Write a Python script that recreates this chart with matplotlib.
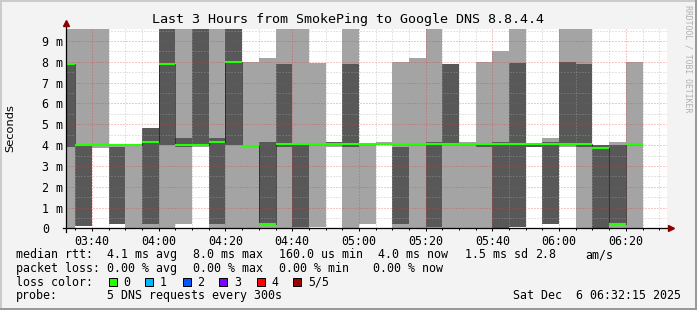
import matplotlib
matplotlib.use("Agg")
import matplotlib.pyplot as plt
import matplotlib.dates as mdates
from matplotlib.patches import Rectangle
from matplotlib.lines import Line2D
from matplotlib.ticker import MultipleLocator, FuncFormatter
import numpy as np
import pandas as pd

# ---------------- data (ms) ----------------
TOP = 12.0  # values above the visible range (clipped at ~9.6 ms)
interval_start = pd.date_range("2025-12-06 03:30", periods=35, freq="5min")
ping_min = [0.0, 0.13, 3.87, 0.19, 0.0, 0.0, 0.0, 0.19, 3.9, 0.0,
            0.0, 0.0, 0.0, 0.0, 0.0, 0.08, 3.9, 0.0, 0.19, 4.0,
            0.0, 0.0, 0.0, 0.0, 0.0, 0.0, 0.0, 0.08, 3.9, 0.19,
            3.9, 0.0, 0.0, 0.0, 0.0]
ping_q1 = [3.89, 0.13, 4.0, 0.19, 3.9, 0.19, 4.0, 3.9, 4.0, 0.19,
           4.0, 3.97, 0.19, 3.9, 0.05, 4.0, 4.03, 3.9, 4.0, 4.03,
           0.19, 3.9, 0.08, 4.0, 4.0, 3.9, 0.0, 0.08, 3.9, 0.19,
           4.0, 3.9, 0.0, 0.19, 4.03]
ping_median = [7.88, 4.0, 4.0, 4.0, 4.0, 4.17, 7.88, 4.0, 4.0, 4.17,
               8.01, 3.95, 0.19, 4.03, 4.03, 4.03, 4.03, 4.03, 4.03, 4.03,
               4.03, 4.03, 4.03, 4.03, 4.03, 4.03, 4.03, 4.03, 4.03, 4.03,
               4.03, 4.03, 3.87, 0.19, 4.03]
ping_q3 = [7.88, 4.0, 4.0, 3.9, 3.9, 4.84, TOP, 4.33, TOP, 4.36,
           TOP, 3.97, 4.17, 7.88, 4.0, 4.0, 4.17, 7.88, 4.0, 4.03,
           3.9, 3.9, 4.13, 7.88, 4.0, 4.0, 4.17, 7.93, 4.0, 4.17,
           8.0, 7.88, 4.0, 4.0, 4.03]
ping_max = [TOP, TOP, TOP, 4.0, 3.95, 4.84, TOP, TOP, TOP, TOP,
            TOP, 8.0, 8.2, TOP, TOP, 7.93, 4.17, TOP, 4.0, 4.17,
            8.0, 8.2, TOP, 7.88, 4.17, 8.0, 8.5, TOP, 4.03, 4.36,
            TOP, TOP, 4.0, 4.17, 8.0]

y_ticks = [0, 1, 2, 3, 4, 5, 6, 7, 8, 9]
title = "Last 3 Hours from SmokePing to Google DNS 8.8.4.4"
loss_labels = ["0", "1", "2", "3", "4", "5/5"]
loss_colors = ["#26ff00", "#00b8ff", "#0059ff", "#7e00ff", "#ff0000", "#a10000"]
row1 = [("median rtt:", 16.7), ("4.1 ms avg", 107.3), ("8.0 ms max", 193.3),
        ("160.0 us min", 279.3), ("4.0 ms now", 379.0), ("1.5 ms sd", 465.7),
        ("2.8", 536.0), ("am/s", 586.0)]
row2 = [("packet loss:", 16.7), ("0.00 % avg", 107.3), ("0.00 % max", 193.3),
        ("0.00 % min", 279.3), ("0.00 % now", 373.3)]
row4 = [("probe:", 16.7), ("5 DNS requests every 300s", 107.3),
        ("Sat Dec  6 06:32:15 2025", 513.3)]

# ---------------- figure ----------------
W, H = 697, 310
plt.rcParams['font.family'] = ['DejaVu Sans Mono']
fig = plt.figure(figsize=(W / 100, H / 100), dpi=100, facecolor='#f3f3f3')

def fx(px):
    return px / W

def fy(py):
    return 1 - py / H

AX_L, AX_R, AX_T, AX_B = 66.2, 666.7, 28.7, 228.4
ax = fig.add_axes([fx(AX_L), fy(AX_B), (AX_R - AX_L) / W, (AX_B - AX_T) / H])
ax.set_facecolor('white')

x = mdates.date2num(interval_start)
w = 5 / 1440.0
lo = np.array(ping_min); hi = np.array(ping_max)
q1 = np.array(ping_q1); q3 = np.array(ping_q3)
med = np.array(ping_median)

ax.bar(x, hi - lo, bottom=lo, width=w, align='edge', color='#a4a4a4',
       linewidth=0, zorder=1)
ax.bar(x, q3 - q1, bottom=q1, width=w, align='edge', color='#585858',
       linewidth=0, zorder=1.1)

xs = np.append(x, x[-1] + w)
ms = np.append(med, med[-1])
ax.step(xs, ms, where='post', color='black', lw=0.72, ls=(0, (1, 1)), zorder=3)
ax.hlines(med, x, x + w, color=loss_colors[0], lw=1.5, zorder=4)

ax.set_xlim(mdates.date2num(pd.Timestamp("2025-12-06 03:32:15")),
            mdates.date2num(pd.Timestamp("2025-12-06 06:32:15")))
ax.set_ylim(0, 9.59)

ax.xaxis.set_major_locator(mdates.MinuteLocator(byminute=[0, 20, 40]))
ax.xaxis.set_minor_locator(mdates.MinuteLocator(byminute=range(0, 60, 5)))
ax.xaxis.set_major_formatter(mdates.DateFormatter('%H:%M'))
ax.yaxis.set_major_locator(MultipleLocator(1))
ax.yaxis.set_minor_locator(MultipleLocator(0.5))
ax.yaxis.set_major_formatter(FuncFormatter(lambda v, p: "0" if v == 0 else f"{v:.0f} m"))

ax.set_axisbelow(False)
ax.grid(which='major', color='#e83030', lw=0.72, ls=(0, (1, 2)), alpha=0.55)
ax.grid(which='minor', color='#a8a8a8', lw=0.72, ls=(0, (1, 2)), alpha=0.6)

for s in ax.spines.values():
    s.set_visible(False)

ax.tick_params(axis='y', which='both', length=0, pad=17.2, labelsize=8.4,
               labelcolor='black')
for lab in ax.get_yticklabels():
    lab.set_horizontalalignment('left')
ax.tick_params(axis='x', which='major', length=2.2, width=0.72, direction='out',
               pad=2.2, labelsize=8.4, color='black')
ax.tick_params(axis='x', which='minor', length=1.5, width=0.72, direction='out',
               color='black')

# axis lines with arrows
ax.plot([-0.006, 1.003], [0, 0], transform=ax.transAxes, color='black',
        lw=0.9, clip_on=False, zorder=6)
ax.plot([0, 0], [-0.018, 1.018], transform=ax.transAxes, color='black',
        lw=0.9, clip_on=False, zorder=6)
ax.plot([1.0065], [0], marker='>', ms=4.2, color='#8b0000', transform=ax.transAxes,
        clip_on=False, zorder=7)
ax.plot([0.0], [1.027], marker='^', ms=4.2, color='#8b0000', transform=ax.transAxes,
        clip_on=False, zorder=7)

# texts
fig.text(fx(347.7), fy(23.5), title, ha='center', va='baseline', fontsize=9.6,
         color='black')
fig.text(fx(10.5), fy(128.0), "Seconds", rotation=90, ha='center', va='center',
         fontsize=8.2, family='DejaVu Sans', color='black')
fig.text(fx(688.3), fy(5.0), "RRDTOOL / TOBI OETIKER", rotation=270, ha='center',
         va='top', fontsize=5.9, color='#b0b0b0')

for s, px in row1:
    fig.text(fx(px - 0.6), fy(258.0), s, ha='left', va='baseline', fontsize=8.4)
for s, px in row2:
    fig.text(fx(px - 0.6), fy(271.8), s, ha='left', va='baseline', fontsize=8.4)
fig.text(fx(16.1), fy(285.6), "loss color:", ha='left', va='baseline', fontsize=8.4)
sq_x = [108.7, 145.3, 182.7, 219.3, 256.7, 293.3]
for lab, col, px in zip(loss_labels, loss_colors, sq_x):
    fig.add_artist(Rectangle((fx(px), fy(286.3)), 8 / W, 8 / H,
                             transform=fig.transFigure, facecolor=col,
                             edgecolor='black', lw=0.72))
    fig.text(fx(px + 14.7), fy(285.6), lab, ha='left', va='baseline', fontsize=8.4)
for s, px in row4:
    fig.text(fx(px - 0.6), fy(299.4), s, ha='left', va='baseline', fontsize=8.4)

# 3D border
fig.add_artist(Line2D([fx(1), fx(1)], [0, 1], transform=fig.transFigure,
                      color='#cbcbcb', lw=1.44))
fig.add_artist(Line2D([0, 1], [fy(1), fy(1)], transform=fig.transFigure,
                      color='#cbcbcb', lw=1.44))
fig.add_artist(Line2D([fx(W - 1), fx(W - 1)], [0, 1], transform=fig.transFigure,
                      color='#999999', lw=1.44))
fig.add_artist(Line2D([0, 1], [fy(H - 1), fy(H - 1)], transform=fig.transFigure,
                      color='#999999', lw=1.44))

fig.savefig("out.png", dpi=100, facecolor=fig.get_facecolor())
